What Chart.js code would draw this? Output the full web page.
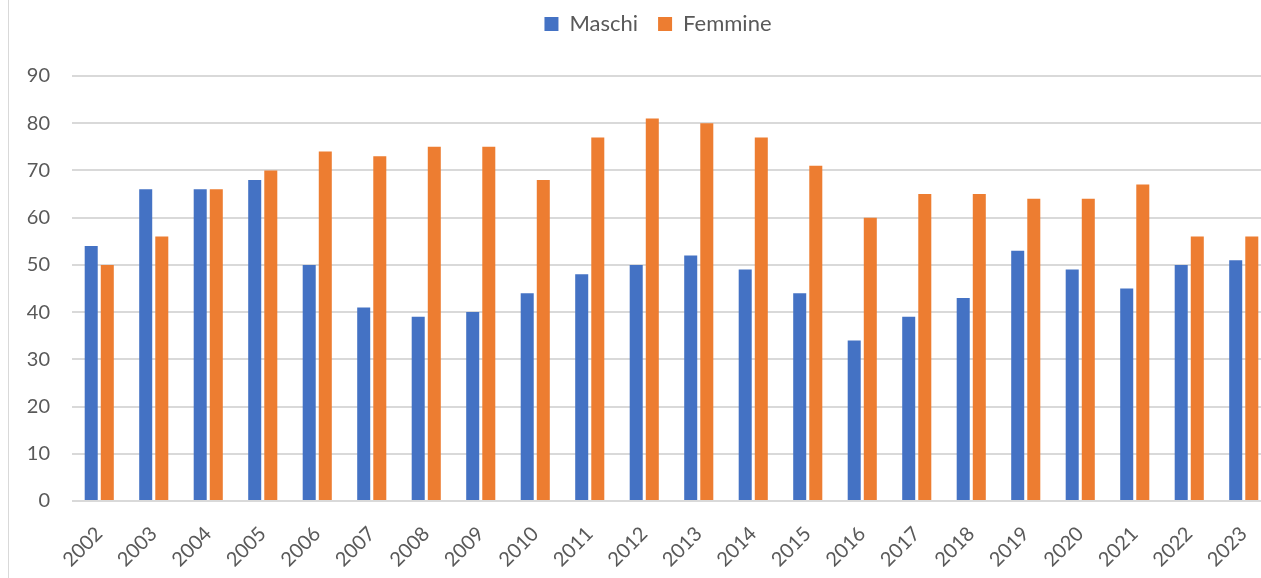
<!DOCTYPE html>
<html>
<head>
<meta charset="utf-8">
<script src="https://cdn.jsdelivr.net/npm/chart.js@4"></script>
<style>
  html, body { margin: 0; padding: 0; background: #fff; overflow: hidden; width: 1261px; height: 578px; }
  #wrap { position: absolute; left: 8px; top: 0; width: 1300px; height: 590px; border-left: 1px solid #d9d9d9; }
  canvas { display: block; }
</style>
</head>
<body>
<div id="wrap"><canvas id="c" width="1300" height="590"></canvas></div>
<script>
const categories = ["2002","2003","2004","2005","2006","2007","2008","2009","2010","2011","2012","2013","2014","2015","2016","2017","2018","2019","2020","2021","2022","2023"];
const maschi  = [54,66,66,68,50,41,39,40,44,48,50,52,49,44,34,39,43,53,49,45,50,51];
const femmine = [50,56,66,70,74,73,75,75,68,77,81,80,77,71,60,65,65,64,64,67,56,56];
const yTicks = [0,10,20,30,40,50,60,70,80,90];

const textColor = '#595959';
const gridColor = '#d9d9d9';
const fontFamily = 'Lato, "Open Sans", sans-serif';
const LEGEND_SHIFT_Y = 31;
const LEGEND_SHIFT_X = 18;

const legendShift = {
  id: 'legendShift',
  afterLayout(chart) {
    const lg = chart.legend;
    if (lg) {
      lg.top -= LEGEND_SHIFT_Y;
      lg.bottom -= LEGEND_SHIFT_Y;
      lg.left += LEGEND_SHIFT_X;
      lg.right += LEGEND_SHIFT_X;
    }
  }
};

new Chart(document.getElementById('c'), {
  type: 'bar',
  data: {
    labels: categories,
    datasets: [
      { label: 'Maschi', data: maschi, backgroundColor: '#4472C4', barPercentage: 0.81, categoryPercentage: 0.59 },
      { label: 'Femmine', data: femmine, backgroundColor: '#ED7D31', barPercentage: 0.81, categoryPercentage: 0.59 }
    ]
  },
  plugins: [legendShift],
  options: {
    responsive: false,
    animation: false,
    layout: { padding: { top: 24, right: 38, left: 0, bottom: 0 } },
    plugins: {
      legend: {
        position: 'top',
        labels: {
          color: textColor,
          font: { family: fontFamily, size: 22 },
          boxWidth: 14, boxHeight: 14,
          padding: 20
        }
      },
      tooltip: { enabled: false }
    },
    scales: {
      x: {
        grid: { display: false, drawTicks: false },
        border: { display: false },
        ticks: {
          color: textColor,
          font: { family: fontFamily, size: 20 },
          minRotation: 45, maxRotation: 45,
          padding: 21
        },
        afterFit(scale) { scale.height = 89; }
      },
      y: {
        min: 0, max: 90,
        afterBuildTicks(scale) { scale.ticks = yTicks.map(v => ({ value: v })); },
        grid: { color: gridColor, lineWidth: 2, drawTicks: false },
        border: { display: false },
        ticks: {
          color: textColor,
          font: { family: fontFamily, size: 20 },
          padding: 22
        },
        afterFit(scale) { scale.width = 63; }
      }
    }
  }
});
</script>
</body>
</html>
